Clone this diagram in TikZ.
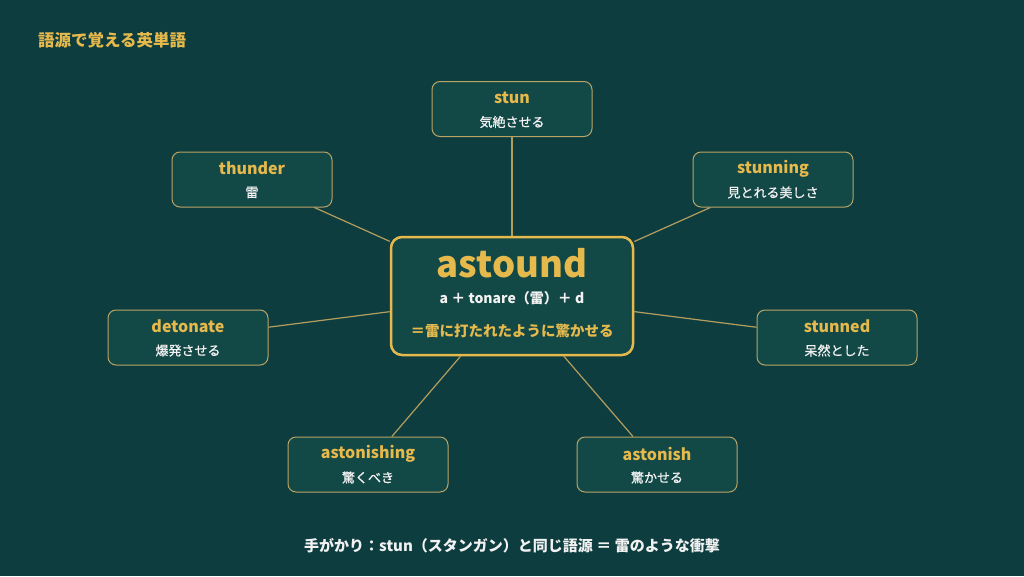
\documentclass[tikz,border=0pt]{standalone}
\usepackage{fontspec}
\setmainfont{Noto Sans CJK JP}
\newfontfamily\subfont[FakeBold=0.8]{Noto Sans CJK JP}
\definecolor{bg}{HTML}{0E3D3F}
\definecolor{boxfill}{HTML}{124846}
\definecolor{boxline}{HTML}{B9A466}
\definecolor{gold}{HTML}{E6B94C}
\definecolor{linec}{HTML}{B49E5E}
\definecolor{txt}{HTML}{F2F2F2}
\begin{document}
\begin{tikzpicture}[x=1pt,y=-1pt,
  box/.style={draw=boxline, line width=1pt, fill=boxfill, rounded corners=8pt, minimum width=160pt, minimum height=55pt, inner sep=0pt},
  hub/.style={draw=gold, line width=2.5pt, fill=boxfill, rounded corners=11pt, minimum width=242pt, minimum height=118pt, inner sep=0pt},
  ttl/.style={text=gold, font=\bfseries\fontsize{16}{18}\selectfont, inner sep=0pt},
  sub/.style={text=txt, font=\subfont\fontsize{13}{15}\selectfont, inner sep=0pt},
  link/.style={draw=linec, line width=1.2pt}]
\fill[bg] (0,0) rectangle (1024,576);
\useasboundingbox (0,0) rectangle (1024,576);

\node[text=gold, font=\bfseries\fontsize{16.5}{18}\selectfont, anchor=west, inner sep=0pt] (title) at (38,40) {語源で覚える英単語};

\node[hub] (c) at (512,296) {};
\node[box] (stun) at (512,109) {};
\node[box] (thunder) at (252,179.5) {};
\node[box] (stunning) at (773,179.5) {};
\node[box] (detonate) at (188,337.5) {};
\node[box] (stunned) at (837,337.5) {};
\node[box] (astonishing) at (368,464.5) {};
\node[box] (astonish) at (657,464.5) {};

\foreach \n in {stun,thunder,stunning,detonate,stunned,astonishing,astonish}
  \draw[link] (c) -- (\n);

\node[text=gold, font=\bfseries\fontsize{36.5}{40}\selectfont, inner sep=0pt] (w) at (512,263) {astound};
\node[text=txt, font=\bfseries\fontsize{14}{16}\selectfont, inner sep=0pt] (ety) at (512,298) {a ＋ tonare（雷）＋ d};
\node[text=gold, font=\bfseries\fontsize{14.5}{17}\selectfont, inner sep=0pt] (mean) at (512,331) {＝雷に打たれたように驚かせる};

\foreach \n/\a/\b in {stun/stun/気絶させる, thunder/thunder/雷, stunning/stunning/見とれる美しさ, detonate/detonate/爆発させる, stunned/stunned/呆然とした, astonishing/astonishing/驚くべき, astonish/astonish/驚かせる}{
  \node[ttl] (\n-t) at ([yshift=11pt]\n.center) {\a};
  \node[sub] (\n-s) at ([yshift=-13pt]\n.center) {\b};
}

\node[text=txt, font=\bfseries\fontsize{15}{17}\selectfont, inner sep=0pt] (hint) at (512,546) {手がかり：stun（スタンガン）と同じ語源 ＝ 雷のような衝撃};
\end{tikzpicture}
\end{document}
